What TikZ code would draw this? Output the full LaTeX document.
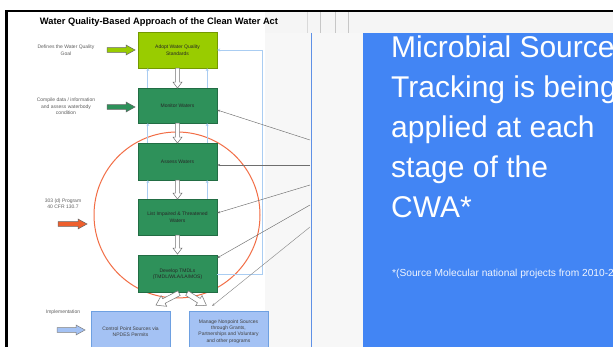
\documentclass[tikz,border=0pt]{standalone}
\usepackage{fontspec}
\setmainfont{Liberation Sans}
\usetikzlibrary{arrows.meta,calc}
\definecolor{mstblue}{RGB}{66,133,244}
\definecolor{edgeblue}{RGB}{95,145,230}
\definecolor{limegr}{RGB}{153,204,0}
\definecolor{boxgreen}{RGB}{46,145,90}
\definecolor{lblue}{RGB}{164,194,244}
\definecolor{lblueedge}{RGB}{110,160,225}
\definecolor{fbblue}{RGB}{170,205,242}
\definecolor{circorange}{RGB}{242,110,70}
\definecolor{arrorange}{RGB}{238,95,45}
\definecolor{labgray}{RGB}{95,95,95}
\definecolor{lingray}{RGB}{110,110,110}
\tikzset{
  pics/barrow/.style n args={4}{code={
    \draw[pic actions] (0,-#2) -- ({#1-#4},-#2) -- ({#1-#4},-#3) -- (#1,0) --
      ({#1-#4},#3) -- ({#1-#4},#2) -- (0,#2) -- cycle;}},
  tiny/.style={font=\fontsize{5}{6.5}\selectfont},
  gbox/.style={draw=boxgreen!75!black, line width=0.3pt, fill=boxgreen,
    minimum width=79pt, inner sep=1pt, align=center, tiny, text=black!85},
  bbox/.style={draw=lblueedge, line width=0.4pt, fill=lblue, minimum width=79pt,
    minimum height=41pt, inner sep=1pt, align=center, tiny, text=black!75},
  lab/.style={tiny, align=center, text=labgray},
  grayline/.style={draw=lingray, line width=0.45pt, -{Stealth[length=3pt,width=2.2pt]}},
  fbline/.style={draw=fbblue, line width=0.8pt, -{Stealth[length=3pt,width=3pt]}},
  blocknext/.style={draw=black!55, fill=white, line width=0.5pt},
  bigtext/.style={font=\fontsize{30}{40}\selectfont, text=white, anchor=base west, inner sep=0pt}
}
\begin{document}
\begin{tikzpicture}[x=1pt,y=-1pt]
\useasboundingbox (0,0) rectangle (613,347);
\clip (0,0) rectangle (613,347);
% backgrounds
\fill[white] (0,0) rectangle (613,347);
\fill[black!3] (8,12) rectangle (613,347);
\fill[white] (8,12) rectangle (265,347);
\fill[black!4] (265,12) rectangle (613,33);
\foreach \xx in {320,335,348} \draw[black!22, line width=0.5pt] (\xx,12) -- (\xx,33);
\draw[black!15, line width=0.5pt] (307,12) -- (307,33);
\draw[edgeblue, line width=1pt] (311.5,33) -- (311.5,347);
% frame
\fill[black] (5,10) rectangle (613,12.3);
\fill[black] (5,10) rectangle (8,347);
% blue panel
\fill[mstblue] (363,33) rectangle (613,347);
\node[bigtext] (t1) at (391,58) {Microbial Source};
\node[bigtext] (t2) at (391,98) {Tracking is being};
\node[bigtext] (t3) at (391,138) {applied at each};
\node[bigtext] (t4) at (391,178) {stage of the};
\node[bigtext] (t5) at (391,218) {CWA*};
\node[font=\fontsize{10.2}{12}\selectfont, text=white!92!mstblue, anchor=base west, inner sep=0pt] (fn) at (392,277) {*(Source Molecular national projects from 2010-2};
% title
\node[font=\bfseries\fontsize{9.3}{11}\selectfont, inner sep=0pt] (title) at (159,22) {Water Quality-Based Approach of the Clean Water Act};
% orange circle
\node[circle, draw=circorange, line width=1pt, minimum size=166pt, inner sep=0pt] (loop) at (177,215) {};
% boxes
\node[gbox, fill=limegr, draw=limegr!75!black, minimum height=36pt] (b1) at (177.5,50) {Adopt Water Quality\\Standards};
\node[gbox, minimum height=35pt] (b2) at (177.5,105.5) {Monitor Waters};
\node[gbox, minimum height=37pt] (b3) at (177.5,161.5) {Assess Waters};
\node[gbox, minimum height=36pt] (b4) at (177.5,217) {List Impaired \& Threatened\\Waters};
\node[gbox, minimum height=37pt] (b5) at (177.5,274) {Develop TMDLs\\(TMDL/WLA/LA/MOS)};
\node[bbox] (b6) at (130.5,331.5) {Control Point Sources via\\NPDES Permits};
\node[bbox, font=\fontsize{5}{6.3}\selectfont] (b7) at (228.5,331.5) {Manage Nonpoint Sources\\through Grants,\\Partnerships and Voluntary\\and other programs};
% feedback lines
\foreach \lo/\up in {b2/b1,b3/b2,b4/b3}{
  \draw[fbline] ($(\lo.north west)+(10,0)$) -- ($(\up.south west)+(10,0)$);
  \draw[fbline] ($(\lo.north east)+(-10,0)$) -- ($(\up.south east)+(-10,0)$);
}
\coordinate (fbr1) at (262,274);
\coordinate (fbr2) at (262,50);
\draw[fbline] (b5.east) -- (fbr1) -- (fbr2) -- (b1.east);
% gray lines from the right
\coordinate (g1) at (310,140);
\coordinate (g2) at (310,165);
\coordinate (g3) at (310,185);
\coordinate (g4) at (310,205);
\coordinate (g5) at (310,227);
\coordinate (g5end) at (212,306);
\draw[grayline] (g1) -- ([yshift=-4.5pt]b2.east);
\draw[grayline] (g2) -- ([yshift=-3.5pt]b3.east);
\draw[grayline] (g3) -- ([yshift=4pt]b4.east);
\draw[grayline] (g4) -- ([yshift=16pt]b5.east);
\draw[grayline, draw=lingray!80] (g5) -- (g5end);
% block arrows between boxes
\pic[blocknext, rotate=-90] at (b1.south) {barrow={20}{2.2}{4.5}{6}};
\pic[blocknext, rotate=-90] at (b2.south) {barrow={20}{2.2}{4.5}{6}};
\pic[blocknext, rotate=-90] at (b3.south) {barrow={19}{2.2}{4.5}{6}};
\pic[blocknext, rotate=-90] at (b4.south) {barrow={19}{2.2}{4.5}{6}};
\pic[blocknext, rotate=207.5] at ($(b5.south)+(1.5,0.5)$) {barrow={26}{2.6}{6}{9}};
\pic[blocknext, rotate=-32.3] at ($(b5.south)+(9.5,0.5)$) {barrow={23}{2.6}{6}{9}};
% left labels and arrows
\node[lab] (l1) at (66,50) {Defines the Water Quality\\Goal};
\node[lab] (l2) at (66,106.5) {Compile data / information\\and assess waterbody\\condition};
\node[lab] (l3) at (63,203.5) {303 (d) Program\\40 CFR 130.7};
\node[lab] (l4) at (63,312) {Implementation};
\pic[draw=black!60, fill=limegr, line width=0.5pt] at (107,50) {barrow={28}{2.3}{5}{9}};
\pic[draw=black!60, fill=boxgreen, line width=0.5pt] at (107,107) {barrow={28}{2.3}{5}{9}};
\pic[draw=black!60, fill=arrorange, line width=0.5pt] at (58,224) {barrow={29}{2.3}{5}{9}};
\pic[draw=black!50, fill=lblue, line width=0.5pt] at (57,330) {barrow={28}{2.3}{5}{9}};
\end{tikzpicture}
\end{document}
